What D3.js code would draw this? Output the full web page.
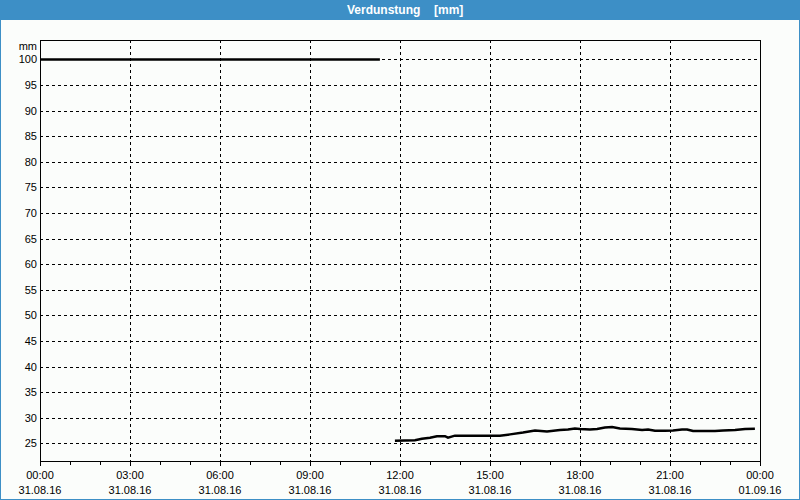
<!DOCTYPE html>
<html><head><meta charset="utf-8">
<script src="https://cdnjs.cloudflare.com/ajax/libs/d3/7.8.5/d3.min.js"></script>
<style>body{margin:0;background:#fff}svg{display:block}</style>
</head><body>
<svg id="c" width="800" height="500"></svg>
<script>
const titleParts = ["Verdunstung", "[mm]"];
const unitLabel = "mm";
const yTicks = [25,30,35,40,45,50,55,60,65,70,75,80,85,90,95,100];
const xTickHours = [0,3,6,9,12,15,18,21,24];
const xTimeLabels = ["00:00","03:00","06:00","09:00","12:00","15:00","18:00","21:00","00:00"];
const xDateLabels = ["31.08.16","31.08.16","31.08.16","31.08.16","31.08.16","31.08.16","31.08.16","31.08.16","01.09.16"];
// segment 1 (hours, mm)
const seg1Hours = [0, 11.33];
const seg1Values = [100, 100];
// segment 2
const seg2Hours = [11.83,12.5,12.73,13.0,13.23,13.5,13.6,13.83,14.33,14.83,15.33,15.67,16.1,16.5,16.9,17.33,17.6,17.83,18.0,18.33,18.57,18.83,19.07,19.33,19.73,20.07,20.27,20.5,20.83,21.1,21.4,21.57,21.77,22.5,22.77,23.17,23.5,23.83];
const seg2Values = [25.5,25.6,25.9,26.1,26.4,26.4,26.1,26.5,26.5,26.5,26.5,26.75,27.1,27.5,27.3,27.6,27.7,27.9,27.8,27.7,27.8,28.1,28.2,27.9,27.8,27.6,27.7,27.45,27.45,27.5,27.7,27.7,27.4,27.4,27.5,27.6,27.8,27.85];

const svg = d3.select("#c");
const font = "'Liberation Sans', Arial, sans-serif";
svg.append("rect").attr("x",0).attr("y",0).attr("width",800).attr("height",500).attr("fill","#fbfdfb");
svg.append("rect").attr("x",0.5).attr("y",0.5).attr("width",799).attr("height",499).attr("fill","none").attr("stroke","#3d8fc6");
svg.append("rect").attr("x",0).attr("y",0).attr("width",800).attr("height",20).attr("fill","#3d8fc6");
svg.append("text").attr("x",347).attr("y",14).attr("text-anchor","start").attr("fill","#fff")
  .attr("font-family",font).attr("font-size",12).attr("font-weight","bold").text(titleParts[0]);
svg.append("text").attr("x",434).attr("y",14).attr("text-anchor","start").attr("fill","#fff")
  .attr("font-family",font).attr("font-size",12).attr("font-weight","bold").text(titleParts[1]);

const L=40, R=760, T=40, B=461;
const x = d3.scaleLinear().domain([0,24]).range([L,R]);
const y = d3.scaleLinear().domain([21.55,103.8]).range([B,T]);

const g = svg.append("g");
g.selectAll(".hg").data(yTicks).enter().append("line")
  .attr("x1",L).attr("x2",R).attr("y1",d=>Math.round(y(d))+0.5).attr("y2",d=>Math.round(y(d))+0.5)
  .attr("stroke","#000").attr("stroke-dasharray","3,3").attr("stroke-width",1);
g.selectAll(".vg").data(xTickHours.slice(1,-1)).enter().append("line")
  .attr("x1",d=>Math.round(x(d))+0.5).attr("x2",d=>Math.round(x(d))+0.5).attr("y1",T).attr("y2",B)
  .attr("stroke","#000").attr("stroke-dasharray","3,3").attr("stroke-width",1);
g.selectAll(".tk").data(d3.range(0,25)).enter().append("line")
  .attr("x1",d=>Math.round(x(d))+0.5).attr("x2",d=>Math.round(x(d))+0.5).attr("y1",B).attr("y2",d=>d%3===0?B+5:B+4)
  .attr("stroke","#000");
g.append("rect").attr("x",L+0.5).attr("y",T+0.5).attr("width",R-L).attr("height",B-T).attr("fill","none").attr("stroke","#000");

g.selectAll(".yl").data(yTicks).enter().append("text")
  .attr("x",37).attr("y",d=>y(d)+4).attr("text-anchor","end").attr("font-family",font).attr("font-size",11).attr("fill","#000").text(d=>d);
g.append("text").attr("x",37).attr("y",50).attr("text-anchor","end").attr("font-family",font).attr("font-size",11).text(unitLabel);
g.selectAll(".xl1").data(xTickHours).enter().append("text")
  .attr("x",d=>x(d)).attr("y",479).attr("text-anchor","middle").attr("font-family",font).attr("font-size",11).text((d,i)=>xTimeLabels[i]);
g.selectAll(".xl2").data(xTickHours).enter().append("text")
  .attr("x",d=>x(d)).attr("y",494).attr("text-anchor","middle").attr("font-family",font).attr("font-size",11).text((d,i)=>xDateLabels[i]);

const line = d3.line().x(d=>x(d[0])).y(d=>y(d[1]));
[[seg1Hours,seg1Values],[seg2Hours,seg2Values]].forEach(([h,v])=>{
  g.append("path").datum(h.map((t,i)=>[t,v[i]])).attr("d",line).attr("fill","none").attr("stroke","#000").attr("stroke-width",2.5);
});
</script>
</body></html>
